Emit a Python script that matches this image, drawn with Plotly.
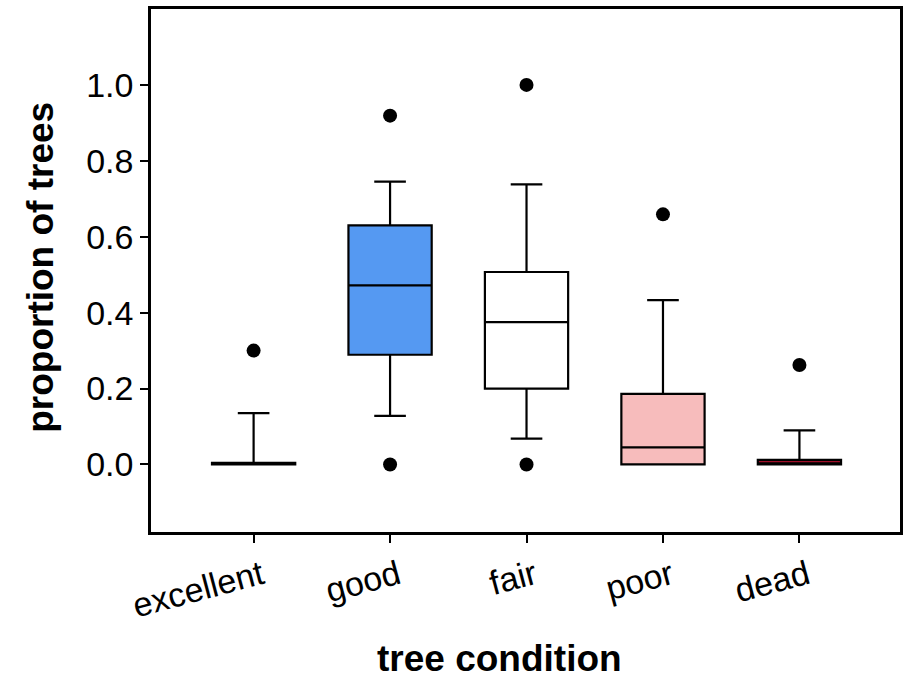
import plotly.graph_objects as go

categories = ["excellent", "good", "fair", "poor", "dead"]
q1 = [0.0, 0.289, 0.200, 0.0, 0.0]
median = [0.0, 0.472, 0.375, 0.045, 0.0]
q3 = [0.004, 0.630, 0.507, 0.186, 0.012]
lower_whisker = [0.0, 0.128, 0.068, 0.0, 0.0]
upper_whisker = [0.135, 0.745, 0.738, 0.433, 0.090]
fill_colors = ["#ffffff", "#5599f2", "#ffffff", "#f7bcbc", "#a0102a"]
outlier_x = ["excellent", "good", "good", "fair", "fair", "poor", "dead"]
outlier_y = [0.300, 0.919, 0.0, 1.0, 0.0, 0.659, 0.262]
y_ticks = [0.0, 0.2, 0.4, 0.6, 0.8, 1.0]

pos = {c: i for i, c in enumerate(categories)}

fig = go.Figure()
for i, c in enumerate(categories):
    fig.add_trace(go.Box(
        x=[pos[c]], q1=[q1[i]], median=[median[i]], q3=[q3[i]],
        lowerfence=[lower_whisker[i]], upperfence=[upper_whisker[i]],
        width=0.61, whiskerwidth=0.38,
        fillcolor=fill_colors[i],
        line=dict(color="black", width=2.2),
        boxpoints=False, showlegend=False,
    ))

fig.add_trace(go.Scatter(
    x=[pos[c] for c in outlier_x], y=outlier_y, mode="markers",
    marker=dict(color="black", size=14), showlegend=False,
))

tick_font = dict(family="Arial, Liberation Sans, sans-serif", size=34, color="black")
title_font = dict(family="Arial, Liberation Sans, sans-serif", size=37, color="black")

fig.update_layout(
    width=909, height=679,
    margin=dict(l=151, r=6, t=7, b=147),
    paper_bgcolor="white", plot_bgcolor="white",
    xaxis=dict(
        range=[-0.752, 4.737], tickvals=list(range(len(categories))), ticktext=categories,
        tickangle=-15, ticks="outside", ticklen=8, tickwidth=2, tickcolor="black",
        ticklabelshift=8,
        showline=True, linecolor="black", linewidth=2.5, mirror=True,
        showgrid=False, zeroline=False, tickfont=tick_font,
    ),
    yaxis=dict(
        range=[-0.178, 1.2], tickvals=y_ticks, ticktext=[f"{v:.1f}" for v in y_ticks],
        ticks="outside", ticklen=8, tickwidth=2, tickcolor="black",
        showline=True, linecolor="black", linewidth=2.5, mirror=True,
        showgrid=False, zeroline=False, tickfont=tick_font,
    ),
    annotations=[
        dict(text="<b>tree condition</b>", xref="paper", yref="paper",
             x=0.465, y=-0.241, xanchor="center", yanchor="middle", showarrow=False,
             font=title_font),
        dict(text="<b>proportion of trees</b>", xref="paper", yref="paper",
             x=-0.1476, y=0.506, xanchor="center", yanchor="middle", showarrow=False,
             textangle=-90, font=title_font),
    ],
)

fig.write_html("out.html", config={"displayModeBar": False},
               post_script="document.body.style.margin='0';")
